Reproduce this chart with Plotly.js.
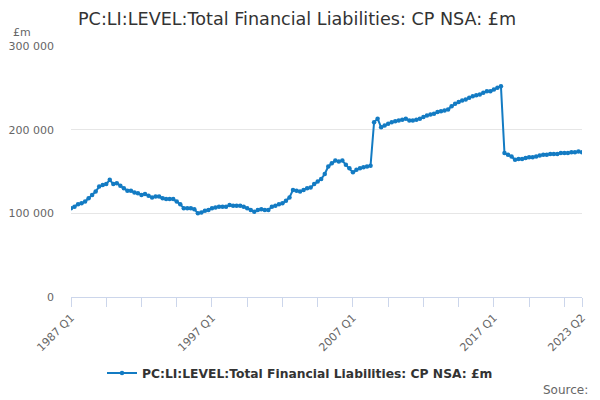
<!DOCTYPE html>
<html>
<head>
<meta charset="utf-8">
<script src="https://cdn.plot.ly/plotly-3.0.1.min.js"></script>
<style>
  html, body { margin: 0; padding: 0; background: #fff; }
  #chart { width: 600px; height: 400px; }
</style>
</head>
<body>
<div id="chart"></div>
<script>
// quarters 1987 Q1 .. 2023 Q2
var quarters = [];
for (var yr = 1987; yr <= 2023; yr++) {
  for (var q = 1; q <= 4; q++) {
    if (yr == 2023 && q > 2) break;
    quarters.push(yr + ' Q' + q);
  }
}

// £m
var liabilities = [
  106000, 108000, 111000, 112000, 114000, 118000, 122000, 126000, 132000, 134000,
  135000, 140000, 135000, 136000, 133000, 130000, 127000, 127000, 125000, 124000,
  122000, 123000, 121000, 119000, 120000, 120000, 118000, 117000, 117000, 117000,
  114000, 111000, 106000, 106000, 106000, 105000, 100000, 101000, 103000, 104000,
  106000, 107000, 108000, 108000, 108000, 110000, 109000, 109000, 109000, 108000,
  106000, 104000, 102000, 104000, 105000, 104000, 104000, 108000, 109000, 111000,
  112000, 115000, 119000, 128000, 127000, 126000, 128000, 130000, 131000, 135000,
  138000, 141000, 147000, 156000, 160000, 163000, 162000, 163000, 158000, 154000,
  149000, 152000, 154000, 155000, 156000, 157000, 209000, 213000, 203000, 205000,
  207000, 209000, 210000, 211000, 212000, 213000, 211000, 211000, 212000, 213000,
  215000, 217000, 218000, 219000, 221000, 222000, 223000, 224000, 228000, 231000,
  233000, 235000, 236000, 238000, 240000, 241000, 242000, 244000, 246000, 246000,
  248000, 250000, 252000, 172000, 170000, 168000, 164000, 165000, 165000, 166000,
  167000, 167000, 168000, 169000, 170000, 170000, 171000, 171000, 171000, 172000,
  172000, 172000, 173000, 173000, 174000, 173000
];

var ytick_vals = [0, 100000, 200000, 300000];
var ytick_text = ['0', '100 000', '200 000', '300 000'];

// tick every 10 quarters, label every 40, plus the last quarter
var xtick_vals = [];
var xtick_text = [];
for (var i = 0; i < quarters.length; i += 10) {
  xtick_vals.push(quarters[i]);
  xtick_text.push(i % 40 == 0 ? quarters[i] : '');
}
xtick_vals.push(quarters[quarters.length - 1]);
xtick_text.push(quarters[quarters.length - 1]);

var title_txt = 'PC:LI:LEVEL:Total Financial Liabilities: CP NSA: £m';

var data = [{
  type: 'scatter',
  mode: 'lines+markers',
  x: quarters,
  y: liabilities,
  name: title_txt,
  line: { color: '#137bc3', width: 2 },
  marker: { color: '#137bc3', size: 4.5, symbol: 'circle' }
}];

var layout = {
  width: 600,
  height: 400,
  font: { family: 'DejaVu Sans, sans-serif', color: '#666666', size: 11 },
  paper_bgcolor: '#ffffff',
  plot_bgcolor: '#ffffff',
  margin: { l: 71, r: 18, t: 46, b: 103, autoexpand: false },
  title: {
    text: title_txt,
    font: { family: 'DejaVu Sans, sans-serif', size: 17.6, color: '#333333' },
    x: 78 / 600, xanchor: 'left', xref: 'container',
    y: 1 - 19 / 400, yanchor: 'middle', yref: 'container'
  },
  xaxis: {
    type: 'category',
    range: [0, quarters.length - 1],
    tickmode: 'array',
    tickvals: xtick_vals,
    ticktext: xtick_text,
    tickangle: -45,
    ticks: 'outside',
    ticklen: 9,
    tickcolor: '#ccd6eb',
    showline: true,
    linecolor: '#ccd6eb',
    linewidth: 1,
    showgrid: false,
    zeroline: false,
    automargin: false,
    tickfont: { size: 11, color: '#666666' }
  },
  yaxis: {
    range: [0, 300000],
    tickmode: 'array',
    tickvals: ytick_vals,
    ticktext: ytick_text,
    showgrid: true,
    gridcolor: '#e6e6e6',
    zeroline: false,
    showline: false,
    ticks: '',
    ticklabelstandoff: 16,
    automargin: false,
    tickfont: { size: 11, color: '#666666' }
  },
  showlegend: true,
  legend: {
    orientation: 'h',
    x: 0.5, xanchor: 'center', xref: 'container',
    y: 1 - 373 / 400, yanchor: 'middle', yref: 'container',
    itemwidth: 30,
    font: { size: 12.3, color: '#333333', weight: 'bold' }
  },
  annotations: [
    {
      text: '£m', xref: 'paper', yref: 'paper',
      x: -71 / 511 + 11 / 511, xanchor: 'left',
      y: 1 + 14 / 251, yanchor: 'middle',
      showarrow: false, font: { size: 11, color: '#666666' }
    },
    {
      text: 'Source:', xref: 'paper', yref: 'paper',
      x: 1 + 8 / 511, xanchor: 'right',
      y: -93 / 251, yanchor: 'middle',
      showarrow: false, font: { size: 12, color: '#666666' }
    }
  ]
};

Plotly.newPlot('chart', data, layout, { displayModeBar: false, staticPlot: true });
</script>
</body>
</html>
